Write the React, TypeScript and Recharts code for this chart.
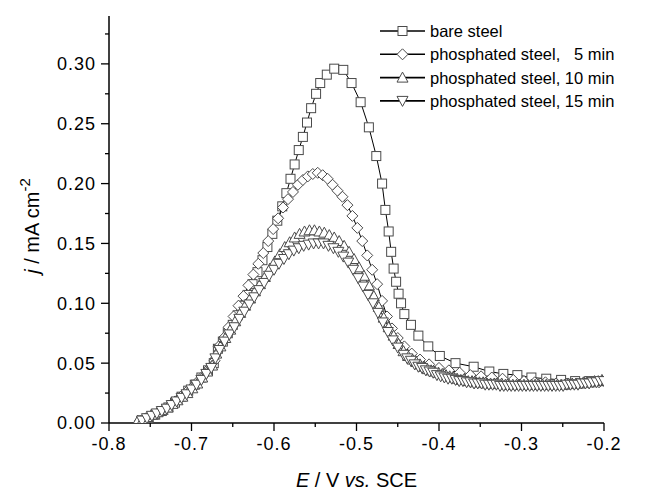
import React from 'react';
import { LineChart, Line, XAxis, YAxis, Customized } from 'recharts';

// ---- data (E in V vs SCE, j in mA cm^-2) ----
const bareE = [
  -0.760, -0.752, -0.744, -0.736, -0.728, -0.720, -0.712, -0.704, -0.696, -0.688,
  -0.680, -0.673, -0.668, -0.662, -0.656, -0.650, -0.644, -0.638, -0.632, -0.626,
  -0.620, -0.614, -0.608, -0.602, -0.596, -0.590, -0.585, -0.580, -0.575, -0.570,
  -0.565, -0.560, -0.555, -0.549, -0.544, -0.536, -0.527, -0.516, -0.506, -0.495,
  -0.485, -0.476, -0.469, -0.465, -0.461, -0.458, -0.455, -0.452, -0.449, -0.446,
  -0.442, -0.434, -0.425, -0.413, -0.399, -0.380, -0.358, -0.339, -0.322, -0.305,
  -0.288, -0.270, -0.252, -0.235, -0.218, -0.202,
];
const bareJ = [
  0.002, 0.004, 0.007, 0.010, 0.013, 0.017, 0.022, 0.027, 0.032, 0.038,
  0.044, 0.050, 0.062, 0.068, 0.075, 0.082, 0.090, 0.098, 0.107, 0.116,
  0.126, 0.136, 0.147, 0.158, 0.169, 0.181, 0.192, 0.204, 0.216, 0.228,
  0.239, 0.251, 0.263, 0.275, 0.284, 0.291, 0.296, 0.295, 0.284, 0.268,
  0.247, 0.223, 0.200, 0.178, 0.160, 0.143, 0.129, 0.118, 0.108, 0.100,
  0.091, 0.082, 0.073, 0.064, 0.056, 0.050, 0.047, 0.043, 0.041, 0.040,
  0.038, 0.037, 0.036, 0.035, 0.035, 0.035,
];

const p5E = [
  -0.762, -0.755, -0.748, -0.741, -0.734, -0.727, -0.720, -0.713, -0.706, -0.699,
  -0.692, -0.685, -0.678, -0.672, -0.667, -0.661, -0.655, -0.649, -0.643, -0.637,
  -0.631, -0.625, -0.619, -0.613, -0.607, -0.601, -0.595, -0.589, -0.583, -0.577,
  -0.571, -0.565, -0.559, -0.553, -0.547, -0.541, -0.535, -0.529, -0.523, -0.517,
  -0.511, -0.505, -0.499, -0.493, -0.487, -0.481, -0.475, -0.469, -0.463, -0.457,
  -0.450, -0.442, -0.433, -0.423, -0.412, -0.400, -0.388, -0.375, -0.362, -0.349,
  -0.336, -0.323, -0.310, -0.297, -0.284, -0.271, -0.258, -0.245, -0.232, -0.219,
  -0.206,
];
const p5J = [
  0.002, 0.004, 0.006, 0.008, 0.011, 0.014, 0.018, 0.022, 0.026, 0.030,
  0.035, 0.040, 0.046, 0.052, 0.064, 0.071, 0.080, 0.089, 0.098, 0.106,
  0.115, 0.124, 0.133, 0.142, 0.152, 0.162, 0.171, 0.180, 0.187, 0.193,
  0.199, 0.203, 0.206, 0.208, 0.209, 0.207, 0.204, 0.199, 0.194, 0.189,
  0.182, 0.173, 0.163, 0.152, 0.140, 0.128, 0.116, 0.102, 0.089, 0.079,
  0.071, 0.064, 0.058, 0.053, 0.049, 0.046, 0.044, 0.042, 0.040, 0.039,
  0.038, 0.037, 0.036, 0.035, 0.034, 0.034, 0.033, 0.033, 0.033, 0.034,
  0.034,
];

// 10 min: rising branch and peak
const p10HeadE = [
  -0.765, -0.759, -0.753, -0.747, -0.741, -0.735, -0.729, -0.723, -0.717, -0.711,
  -0.705, -0.699, -0.693, -0.687, -0.681, -0.675, -0.670, -0.665, -0.659, -0.653,
  -0.647, -0.641, -0.635, -0.629, -0.623, -0.617, -0.611, -0.605, -0.599, -0.593,
  -0.587, -0.581, -0.575, -0.569, -0.563, -0.557, -0.551, -0.545, -0.539, -0.533,
  -0.527, -0.521, -0.515, -0.509, -0.503, -0.497, -0.491, -0.485, -0.479, -0.473,
  -0.467, -0.461, -0.455, -0.449, -0.443,
];
const p10HeadJ = [
  0.002, 0.003, 0.005, 0.007, 0.009, 0.011, 0.013, 0.016, 0.019, 0.022,
  0.025, 0.029, 0.033, 0.038, 0.043, 0.048, 0.058, 0.064, 0.071, 0.078,
  0.085, 0.092, 0.098, 0.104, 0.110, 0.116, 0.122, 0.129, 0.135, 0.141,
  0.147, 0.151, 0.155, 0.158, 0.160, 0.161, 0.161, 0.160, 0.159, 0.157,
  0.155, 0.152, 0.148, 0.143, 0.137, 0.130, 0.123, 0.115, 0.106, 0.097,
  0.088, 0.080, 0.073, 0.066, 0.060,
];
// 10 min: tail
const p10TailE = [
  -0.4375, -0.432, -0.4275, -0.423, -0.4185, -0.414, -0.4095, -0.405, -0.4005, -0.396,
  -0.3915, -0.387, -0.3825, -0.378, -0.3735, -0.369, -0.3645, -0.360, -0.3555, -0.351,
  -0.3465, -0.342, -0.3375, -0.333, -0.3285, -0.324, -0.3195, -0.315, -0.3105, -0.306,
  -0.3015, -0.297, -0.2925, -0.288, -0.2835, -0.279, -0.2745, -0.270, -0.2655, -0.261,
  -0.2565, -0.252, -0.2475, -0.243, -0.2385, -0.234, -0.2295, -0.225, -0.2205, -0.216,
  -0.2115, -0.207, -0.2025,
];
const p10TailJ = [
  0.056, 0.053, 0.051, 0.049, 0.047, 0.045, 0.044, 0.043, 0.042, 0.041,
  0.040, 0.039, 0.038, 0.037, 0.036, 0.036, 0.035, 0.035, 0.034, 0.034,
  0.034, 0.033, 0.033, 0.033, 0.033, 0.033, 0.032, 0.032, 0.032, 0.032,
  0.032, 0.032, 0.032, 0.032, 0.032, 0.032, 0.032, 0.032, 0.032, 0.032,
  0.032, 0.032, 0.032, 0.033, 0.033, 0.033, 0.033, 0.034, 0.034, 0.034,
  0.035, 0.035, 0.036,
];

// 15 min: rising branch and peak
const p15HeadE = [
  -0.760, -0.754, -0.748, -0.742, -0.736, -0.730, -0.724, -0.718, -0.712, -0.706,
  -0.700, -0.694, -0.688, -0.682, -0.676, -0.671, -0.666, -0.660, -0.654, -0.648,
  -0.642, -0.636, -0.630, -0.624, -0.618, -0.612, -0.606, -0.600, -0.594, -0.588,
  -0.582, -0.576, -0.570, -0.564, -0.558, -0.552, -0.546, -0.540, -0.534, -0.528,
  -0.522, -0.516, -0.510, -0.504, -0.498, -0.492, -0.486, -0.480, -0.474, -0.468,
  -0.462, -0.456, -0.450, -0.443,
];
const p15HeadJ = [
  0.002, 0.004, 0.006, 0.008, 0.010, 0.012, 0.015, 0.018, 0.021, 0.024,
  0.028, 0.032, 0.036, 0.041, 0.046, 0.054, 0.061, 0.068, 0.074, 0.080,
  0.087, 0.093, 0.099, 0.105, 0.111, 0.117, 0.123, 0.128, 0.133, 0.137,
  0.141, 0.144, 0.146, 0.148, 0.149, 0.150, 0.150, 0.150, 0.148, 0.146,
  0.143, 0.139, 0.134, 0.128, 0.121, 0.114, 0.107, 0.100, 0.092, 0.084,
  0.076, 0.069, 0.063, 0.057,
];
// 15 min: tail
const p15TailE = [
  -0.4385, -0.434, -0.4295, -0.425, -0.4205, -0.416, -0.4115, -0.407, -0.4025, -0.398,
  -0.3935, -0.389, -0.3845, -0.380, -0.3755, -0.371, -0.3665, -0.362, -0.3575, -0.353,
  -0.3485, -0.344, -0.3395, -0.335, -0.3305, -0.326, -0.3215, -0.317, -0.3125, -0.308,
  -0.3035, -0.299, -0.2945, -0.290, -0.2855, -0.281, -0.2765, -0.272, -0.2675, -0.263,
  -0.2585, -0.254, -0.2495, -0.245, -0.2405, -0.236, -0.2315, -0.227, -0.2225, -0.218,
  -0.2135, -0.209, -0.2045, -0.200,
];
const p15TailJ = [
  0.054, 0.052, 0.049, 0.047, 0.046, 0.044, 0.043, 0.042, 0.040, 0.039,
  0.038, 0.037, 0.037, 0.036, 0.035, 0.035, 0.034, 0.034, 0.033, 0.033,
  0.033, 0.032, 0.032, 0.032, 0.032, 0.031, 0.031, 0.031, 0.031, 0.031,
  0.031, 0.031, 0.031, 0.031, 0.031, 0.031, 0.031, 0.031, 0.031, 0.031,
  0.031, 0.031, 0.031, 0.032, 0.032, 0.032, 0.032, 0.033, 0.033, 0.033,
  0.034, 0.034, 0.035, 0.035,
];

const seriesNames = [
  'bare steel',
  'phosphated steel,   5 min',
  'phosphated steel, 10 min',
  'phosphated steel, 15 min',
];
const seriesShapes = ['square', 'diamond', 'up', 'down'];

const xTicks = [-0.8, -0.75, -0.7, -0.65, -0.6, -0.55, -0.5, -0.45, -0.4, -0.35, -0.3, -0.25, -0.2];
const yTicks = [0, 0.025, 0.05, 0.075, 0.1, 0.125, 0.15, 0.175, 0.2, 0.225, 0.25, 0.275, 0.3, 0.325];

const toPoints = (E: number[], J: number[]) => E.map((e, i) => ({ E: e, j: J[i] }));
const seriesData = [
  toPoints(bareE, bareJ),
  toPoints(p5E, p5J),
  toPoints([...p10HeadE, ...p10TailE], [...p10HeadJ, ...p10TailJ]),
  toPoints([...p15HeadE, ...p15TailE], [...p15HeadJ, ...p15TailJ]),
];

const FONT = '"Liberation Sans", Arial, Helvetica, sans-serif';
const MARK_STROKE = '#4a4a4a';

function Marker({ shape, cx, cy }: { shape: string; cx: number; cy: number }) {
  if (cx == null || cy == null || isNaN(cx) || isNaN(cy)) return null;
  const common = { fill: '#fff', stroke: MARK_STROKE, strokeWidth: 1 };
  if (shape === 'square') {
    return <rect x={cx - 4.5} y={cy - 4.5} width={9} height={9} {...common} />;
  }
  if (shape === 'diamond') {
    return <polygon points={`${cx},${cy - 5.5} ${cx + 5.5},${cy} ${cx},${cy + 5.5} ${cx - 5.5},${cy}`} {...common} />;
  }
  if (shape === 'up') {
    return <polygon points={`${cx},${cy - 5.5} ${cx + 5.5},${cy + 4.5} ${cx - 5.5},${cy + 4.5}`} {...common} />;
  }
  return <polygon points={`${cx - 5.5},${cy - 4.5} ${cx + 5.5},${cy - 4.5} ${cx},${cy + 5.5}`} {...common} />;
}

const makeDot = (shape: string) => (p: any) => (
  <Marker key={`${shape}-${p.index}`} shape={shape} cx={p.cx} cy={p.cy} />
);

const Y_TICK_SIZE = 8;
const Y_TICK_MARGIN = 5;
const X_TICK_SIZE = 8;
const X_TICK_MARGIN = 6;

const isMajor = (v: number, step: number) => Math.abs(v / step - Math.round(v / step)) < 1e-6;

const YTick = (props: any) => {
  const { x, y, payload } = props;
  const v = payload.value as number;
  const major = isMajor(v, 0.05);
  const ax = x + Y_TICK_SIZE + Y_TICK_MARGIN;
  return (
    <g>
      <line x1={ax - (major ? 8 : 4)} x2={ax} y1={y} y2={y} stroke="#000" strokeWidth={1.3} />
      {major && (
        <text x={x} y={y} dy="0.36em" textAnchor="end" fontFamily={FONT} fontSize={18} letterSpacing={1} fill="#000">
          {v.toFixed(2)}
        </text>
      )}
    </g>
  );
};

const XTick = (props: any) => {
  const { x, y, payload } = props;
  const v = payload.value as number;
  const major = isMajor(v, 0.1);
  const ay = y - X_TICK_SIZE - X_TICK_MARGIN;
  return (
    <g>
      <line x1={x} x2={x} y1={ay} y2={ay + (major ? 8 : 4)} stroke="#000" strokeWidth={1.3} />
      {major && (
        <text x={x} y={y} dy="0.71em" textAnchor="middle" fontFamily={FONT} fontSize={18} letterSpacing={1} fill="#000">
          {v.toFixed(1)}
        </text>
      )}
    </g>
  );
};

const XTitle = (props: any) => {
  const vb = props.viewBox || {};
  const cx = vb.x + vb.width / 2;
  return (
    <text x={cx} y={vb.y + 64} textAnchor="middle" fontFamily={FONT} fontSize={20} fill="#000">
      <tspan fontStyle="italic">E</tspan> / V <tspan fontStyle="italic">vs.</tspan> SCE
    </text>
  );
};

const YTitle = () => {
  const cx = 39;
  const cy = 226;
  return (
    <text x={cx} y={cy} transform={`rotate(-90, ${cx}, ${cy})`} textAnchor="middle" fontFamily={FONT} fontSize={20} fill="#000">
      <tspan fontStyle="italic">j</tspan> / mA cm<tspan dy={-9} fontSize={15}>-2</tspan>
    </text>
  );
};

const LegendBox = () => {
  const x0 = 380;
  const x1 = 425;
  const y0 = 31;
  const dy = 23.3;
  return (
    <g>
      {seriesNames.map((name, i) => {
        const y = y0 + i * dy;
        return (
          <g key={name}>
            <line x1={x0} x2={x1} y1={y} y2={y} stroke="#000" strokeWidth={1.6} />
            <Marker shape={seriesShapes[i]} cx={(x0 + x1) / 2} cy={y} />
            <text x={x1 + 5} y={y} dy="0.36em" fontFamily={FONT} fontSize={16.5} fill="#000" style={{ whiteSpace: 'pre' }}>
              {name}
            </text>
          </g>
        );
      })}
    </g>
  );
};

export default function App() {
  return (
    <div style={{ position: 'absolute', left: 0, top: 0, width: 647, height: 494, background: '#fff' }}>
      <LineChart width={647} height={494} margin={{ top: 16, right: 43, bottom: 21, left: 49 }}>
        <XAxis
          dataKey="E"
          type="number"
          domain={[-0.8, -0.2]}
          ticks={xTicks}
          interval={0}
          allowDataOverflow
          height={50}
          tickSize={X_TICK_SIZE}
          tickMargin={X_TICK_MARGIN}
          tickLine={{ stroke: 'transparent' }}
          axisLine={{ stroke: '#000', strokeWidth: 1.5 }}
          tick={<XTick />}
          label={<XTitle />}
        />
        <YAxis
          dataKey="j"
          type="number"
          domain={[0, 0.34]}
          ticks={yTicks}
          interval={0}
          allowDataOverflow
          width={60}
          tickSize={Y_TICK_SIZE}
          tickMargin={Y_TICK_MARGIN}
          tickLine={{ stroke: 'transparent' }}
          axisLine={{ stroke: '#000', strokeWidth: 1.5 }}
          tick={<YTick />}
          label={<YTitle />}
        />
        {seriesData.map((d, i) => (
          <Line
            key={seriesNames[i]}
            data={d}
            dataKey="j"
            name={seriesNames[i]}
            type="linear"
            stroke="#000"
            strokeWidth={1}
            dot={makeDot(seriesShapes[i])}
            activeDot={false}
            isAnimationActive={false}
          />
        ))}
        <Customized component={LegendBox} />
      </LineChart>
    </div>
  );
}
